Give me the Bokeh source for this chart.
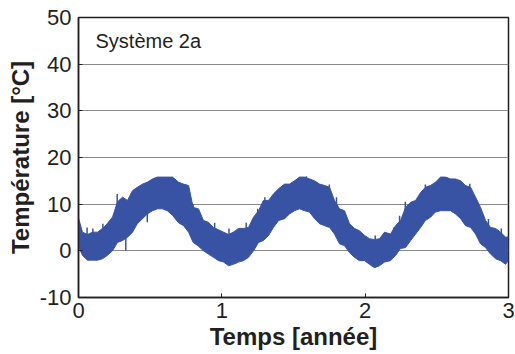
from bokeh.plotting import figure
from bokeh.models import FixedTicker, Range1d, Label
from bokeh.embed import file_html
from bokeh.resources import INLINE

# Envelope of the daily-fluctuating temperature signal
t = [0, 0.028, 0.063, 0.098, 0.133, 0.167, 0.2, 0.237, 0.272, 0.307, 0.342, 0.377,
     0.41, 0.447, 0.48, 0.516, 0.551, 0.586, 0.62, 0.656, 0.698, 0.733, 0.768, 0.80,
     0.837, 0.872, 0.907, 0.942, 0.977, 1.012, 1.047, 1.08, 1.117, 1.151, 1.186,
     1.221, 1.256, 1.29, 1.326, 1.36, 1.396, 1.438, 1.472, 1.507, 1.542, 1.577,
     1.612, 1.647, 1.682, 1.717, 1.752, 1.786, 1.821, 1.856, 1.891, 1.926, 1.96,
     1.996, 2.03, 2.065, 2.1, 2.135, 2.177, 2.212, 2.247, 2.282, 2.317, 2.352,
     2.387, 2.42, 2.456, 2.49, 2.526, 2.56, 2.596, 2.63, 2.666, 2.7, 2.736, 2.77,
     2.805, 2.84, 2.875, 2.91, 2.945, 2.98, 3.0]
upper = [7, 4, 3.5, 4, 4, 4.8, 5.8, 7.2, 10.5, 11.5, 10.8, 12.9,
         13.6, 14.3, 14.7, 15.4, 15.8, 15.8, 15.8, 15.8, 14.7, 14.3, 14.0, 9.3,
         9.0, 6.5, 6.1, 5.0, 4.5, 4.0, 3.5, 4.0, 4.8, 4.8, 5.0,
         7.2, 8.6, 10.8, 10.8, 12.2, 13.3, 14.3, 14.3, 15.0, 15.8, 15.8,
         15.4, 15.0, 14.3, 14.0, 13.6, 10.8, 9.0, 8.6, 5.8, 4.8, 4.3,
         3.3, 2.6, 2.4, 2.6, 4.0, 3.6, 5.4, 6.5, 9.3, 10.4, 10.8,
         12.5, 13.6, 14.0, 14.7, 15.8, 15.8, 15.4, 15.4, 15.0, 14.0, 13.6, 11.5,
         9.3, 6.5, 5.0, 4.8, 4.0, 2.9, 3.0]
lower = [1, -1, -2, -2, -2, -1.7, -1, 0, 1.8, 2.2, 2.9, 4,
         5.8, 6.9, 7.9, 8.6, 9.0, 9.0, 8.6, 7.6, 6.0, 5.4, 4.0, 1.8,
         1.0, 0, -0.7, -1.4, -2.1, -2.4, -3.2, -2.9, -2.4, -2.1, -1.4,
         0, 1.8, 2.2, 3.3, 5.0, 6.5, 6.9, 7.9, 8.6, 9.0, 8.6,
         8.3, 6.9, 5.8, 5.4, 5.0, 3.6, 1.5, 1.1, -0.4, -1.4, -2.1,
         -2.1, -2.9, -3.6, -3.2, -2.4, -2.1, -1.0, 0.5, 0.7, 2.2, 3.6,
         5.0, 6.5, 7.2, 8.3, 8.6, 8.6, 8.6, 7.9, 6.9, 5.4, 5.0, 3.6,
         1.5, 0.7, -0.7, -1.7, -2.1, -2.9, -2.0]

# Isolated spikes visible beyond the dense band (time, low end, high end)
spike_t = [0.06, 0.10, 0.17, 0.27, 0.33, 0.48, 0.53, 0.80, 0.95, 1.05, 1.17,
           1.25, 1.30, 1.59, 1.75, 1.80, 1.87, 2.07, 2.20, 2.24, 2.28, 2.42,
           2.73, 2.86, 2.95]
spike_lo = [2.0, 2.0, 2.0, 6.0, 0.0, 6.1, 10.0, 3.0, 0.0, -1.0, 0.0,
            3.0, 5.0, 12.0, 7.0, 4.0, 2.0, -1.0, 0.0, 2.0, 3.0, 8.0,
            7.0, 1.0, -1.0]
spike_hi = [5.0, 4.8, 5.8, 12.2, 6.0, 10.0, 15.6, 10.0, 6.0, 4.8, 6.0,
            9.0, 11.5, 16.0, 14.2, 11.5, 7.0, 3.3, 5.0, 7.5, 10.5, 14.2,
            14.4, 6.8, 4.8]

x_ticks = [0, 1, 2, 3]
y_ticks = [-10, 0, 10, 20, 30, 40, 50]
y_tick_labels = ["-10", "0", "10", "20", "30", "40", "50"]
annotation = "Système 2a"
x_label = "Temps [année]"
y_label = "Température [°C]"

FONT = "Liberation Sans"
TXT = "#231f20"
BLUE = "#3953a4"

p = figure(frame_width=430, frame_height=280, output_backend="svg",
           toolbar_location=None, x_range=Range1d(0, 3), y_range=Range1d(-10, 50),
           min_border_left=78, min_border_right=7, min_border_top=17,
           min_border_bottom=57, background_fill_color="white",
           border_fill_color="white", outline_line_color="#231f20",
           outline_line_width=1.5)

p.varea(x=t, y1=lower, y2=upper, fill_color=BLUE)
p.line(x=t, y=upper, line_color=BLUE, line_width=1)
p.line(x=t, y=lower, line_color=BLUE, line_width=1)
p.segment(x0=spike_t, y0=spike_lo, x1=spike_t, y1=spike_hi,
          line_color=BLUE, line_width=1.5)

p.xgrid.visible = False
p.ygrid.ticker = FixedTicker(ticks=y_ticks)
p.ygrid.grid_line_color = "#8a8a8a"
p.ygrid.grid_line_width = 1

for ax in p.xaxis:
    ax.ticker = FixedTicker(ticks=x_ticks)
for ax in p.yaxis:
    ax.ticker = FixedTicker(ticks=y_ticks)
    ax.major_label_overrides = dict(zip(y_ticks, y_tick_labels))

for ax in p.xaxis + p.yaxis:
    ax.axis_line_color = TXT
    ax.axis_line_width = 1.5
    ax.major_tick_in = 4
    ax.major_tick_out = 0
    ax.minor_tick_line_color = None
    ax.major_tick_line_color = TXT
    ax.major_label_text_font = FONT
    ax.major_label_text_font_size = "22px"
    ax.major_label_text_color = TXT
    ax.axis_label_text_font = FONT
    ax.axis_label_text_font_size = "24px"
    ax.axis_label_text_font_style = "bold"
    ax.axis_label_text_color = TXT

p.xaxis.axis_label = x_label
p.yaxis.axis_label = y_label
p.xaxis.major_label_standoff = 5
p.xaxis.axis_label_standoff = 2
p.yaxis.major_label_standoff = 7
p.yaxis.axis_label_standoff = 3

p.add_layout(Label(x=17, y=257, x_units="screen", y_units="screen",
                   text=annotation, text_font=FONT, text_font_size="20px",
                   text_color=TXT, text_baseline="middle"))

open("out.html", "w").write(file_html(p, INLINE))
